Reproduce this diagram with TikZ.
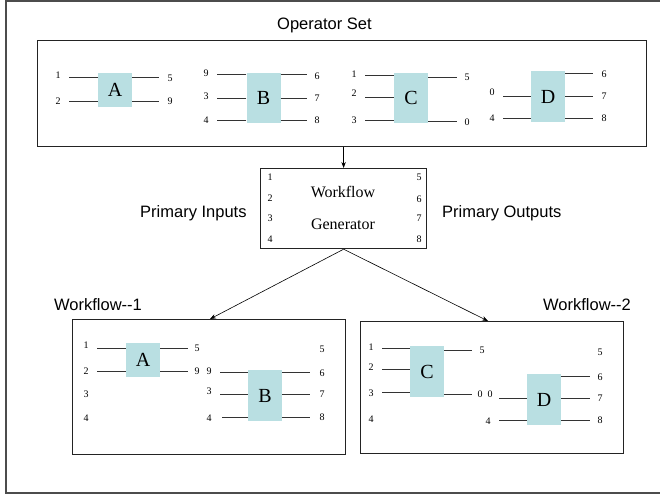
\documentclass[tikz,border=0pt]{standalone}
\usepackage{fontspec}
\setmainfont{Liberation Serif}
\setsansfont{Liberation Sans}
\usetikzlibrary{arrows.meta}
\definecolor{opfill}{RGB}{185,223,226}
\definecolor{ink}{RGB}{35,35,35}
\begin{document}
\begin{tikzpicture}[x=1pt,y=-1pt,
  frame/.style={draw=ink, line width=1.2pt, inner sep=0pt, anchor=north west},
  op/.style={fill=opfill, inner sep=0pt, minimum width=34pt, font=\fontsize{20}{20}\selectfont},
  wire/.style={draw=black!80, line width=1pt},
  num/.style={inner sep=0pt, font=\fontsize{10}{10}\selectfont},
  lbl/.style={inner sep=0pt, anchor=base west, font=\sffamily\fontsize{16.5}{18}\selectfont},
  gentext/.style={inner sep=0pt, font=\fontsize{16}{18}\selectfont},
  flow/.style={draw=black, line width=0.6pt, -{Stealth[length=6pt,width=4.5pt]}}]
\useasboundingbox (0,0) rectangle (660,498);

% page frame, open on the right
\draw[draw=black!70, line width=1.6pt] (660,1) -- (6,1) -- (6,493) -- (660,493);

% main boxes
\node[frame, minimum width=609pt, minimum height=106pt] (ops) at (37,40) {};
\node[frame, minimum width=166pt, minimum height=80pt] (gen) at (260,168) {};
\node[frame, minimum width=273pt, minimum height=135pt] (wf1) at (72,319) {};
\node[frame, minimum width=263pt, minimum height=132pt] (wf2) at (360,321) {};

% titles
\node[lbl] (tOps) at (277,29) {Operator Set};
\node[lbl] (tIn) at (140,217) {Primary Inputs};
\node[lbl] (tOut) at (442,217) {Primary Outputs};
\node[lbl] (tW1) at (54,310) {Workflow-{}-1};
\node[lbl] (tW2) at (543,310) {Workflow-{}-2};

% flow arrows
\draw[flow] (ops.south -| gen.north) -- (gen.north);
\draw[flow] (gen.south) -- (wf1.north -| 210,0);
\draw[flow] (gen.south) -- (wf2.north -| 488,0);

% ---------- operator set ----------
\node[op, minimum height=34pt] (oA) at (115,90) {A};
\draw[wire] (oA.west |- 0,77) -- (69,77);
\draw[wire] (oA.west |- 0,101) -- (69,101);
\draw[wire] (oA.east |- 0,77) -- (159,77);
\draw[wire] (oA.east |- 0,101) -- (159,101);
\node[num] (oA1) at (58,75) {1};
\node[num] (oA2) at (58,101) {2};
\node[num] (oA5) at (170,78) {5};
\node[num] (oA9) at (170,101) {9};

\node[op, minimum height=50pt] (oB) at (263.5,98) {B};
\draw[wire] (oB.west |- 0,74) -- (217,74);
\draw[wire] (oB.west |- 0,98) -- (217,98);
\draw[wire] (oB.west |- 0,120) -- (217,120);
\draw[wire] (oB.east |- 0,74) -- (307,74);
\draw[wire] (oB.east |- 0,98) -- (307,98);
\draw[wire] (oB.east |- 0,120) -- (307,120);
\node[num] (oB9) at (206,73) {9};
\node[num] (oB3) at (206,96) {3};
\node[num] (oB4) at (206,120) {4};
\node[num] (oB6) at (317,76) {6};
\node[num] (oB7) at (317,98) {7};
\node[num] (oB8) at (317,120) {8};

\node[op, minimum height=50pt] (oC) at (411,98) {C};
\draw[wire] (oC.west |- 0,75) -- (365,75);
\draw[wire] (oC.west |- 0,97) -- (365,97);
\draw[wire] (oC.west |- 0,120) -- (365,120);
\draw[wire] (oC.east |- 0,77) -- (457,77);
\draw[wire] (oC.east |- 0,121) -- (457,121);
\node[num] (oC1) at (354,74) {1};
\node[num] (oC2) at (354,93) {2};
\node[num] (oC3) at (354,120) {3};
\node[num] (oC5) at (467,77) {5};
\node[num] (oC0) at (467,122) {0};

\node[op, minimum height=51pt] (oD) at (548,96.5) {D};
\draw[wire] (oD.west |- 0,96) -- (503,96);
\draw[wire] (oD.west |- 0,118) -- (503,118);
\draw[wire] (oD.east |- 0,73) -- (593,73);
\draw[wire] (oD.east |- 0,96) -- (593,96);
\draw[wire] (oD.east |- 0,118) -- (593,118);
\node[num] (oD0) at (492,92) {0};
\node[num] (oD4) at (492,118) {4};
\node[num] (oD6) at (604,74) {6};
\node[num] (oD7) at (604,96) {7};
\node[num] (oD8) at (604,118) {8};

% ---------- workflow generator ----------
\node[gentext] (gW) at (343,192) {Workflow};
\node[gentext] (gG) at (343,224) {Generator};
\node[num] (g1) at (270,177) {1};
\node[num] (g2) at (270,198) {2};
\node[num] (g3) at (270,218) {3};
\node[num] (g4) at (270,239) {4};
\node[num] (g5) at (419,177) {5};
\node[num] (g6) at (419,199) {6};
\node[num] (g7) at (419,218) {7};
\node[num] (g8) at (419,239) {8};

% ---------- workflow 1 ----------
\node[op, minimum height=34pt] (aA) at (143,360) {A};
\draw[wire] (aA.west |- 0,348) -- (97,348);
\draw[wire] (aA.west |- 0,371) -- (97,371);
\draw[wire] (aA.east |- 0,348) -- (188,348);
\draw[wire] (aA.east |- 0,371) -- (188,371);
\node[num] (a1) at (86,345) {1};
\node[num] (a2) at (86,371) {2};
\node[num] (a3) at (86,394) {3};
\node[num] (a4) at (86,418) {4};
\node[num] (aA5) at (197,348) {5};
\node[num] (aA9) at (197,371) {9};

\node[op, minimum height=51pt] (aB) at (265,395.5) {B};
\draw[wire] (aB.west |- 0,372) -- (220,372);
\draw[wire] (aB.west |- 0,394) -- (220,394);
\draw[wire] (aB.west |- 0,417) -- (222,417);
\draw[wire] (aB.east |- 0,372) -- (310,372);
\draw[wire] (aB.east |- 0,394) -- (310,394);
\draw[wire] (aB.east |- 0,417) -- (310,417);
\node[num] (aB9) at (209,371) {9};
\node[num] (aB3) at (209,391) {3};
\node[num] (aB4) at (209,418) {4};
\node[num] (a5) at (322,349) {5};
\node[num] (a6) at (322,373) {6};
\node[num] (a7) at (322,394) {7};
\node[num] (a8) at (322,417) {8};

% ---------- workflow 2 ----------
\node[op, minimum height=51pt] (bC) at (427,371.5) {C};
\draw[wire] (bC.west |- 0,348) -- (382,348);
\draw[wire] (bC.west |- 0,369) -- (382,369);
\draw[wire] (bC.west |- 0,392) -- (382,392);
\draw[wire] (bC.east |- 0,350) -- (472,350);
\draw[wire] (bC.east |- 0,394) -- (472,394);
\node[num] (b1) at (371,347) {1};
\node[num] (b2) at (371,367) {2};
\node[num] (b3) at (371,393) {3};
\node[num] (b4) at (371,419) {4};
\node[num] (bC5) at (482,350) {5};
\node[num] (bC0) at (480,394) {0};

\node[op, minimum height=51pt] (bD) at (544,399.5) {D};
\draw[wire] (bD.west |- 0,398) -- (499,398);
\draw[wire] (bD.west |- 0,420) -- (499,420);
\draw[wire] (bD.east |- 0,376) -- (590,376);
\draw[wire] (bD.east |- 0,398) -- (590,398);
\draw[wire] (bD.east |- 0,420) -- (590,420);
\node[num] (bD0) at (490,394) {0};
\node[num] (bD4) at (488,421) {4};
\node[num] (b5) at (600,352) {5};
\node[num] (b6) at (600,377) {6};
\node[num] (b7) at (600,398) {7};
\node[num] (b8) at (600,420) {8};
\end{tikzpicture}
\end{document}
